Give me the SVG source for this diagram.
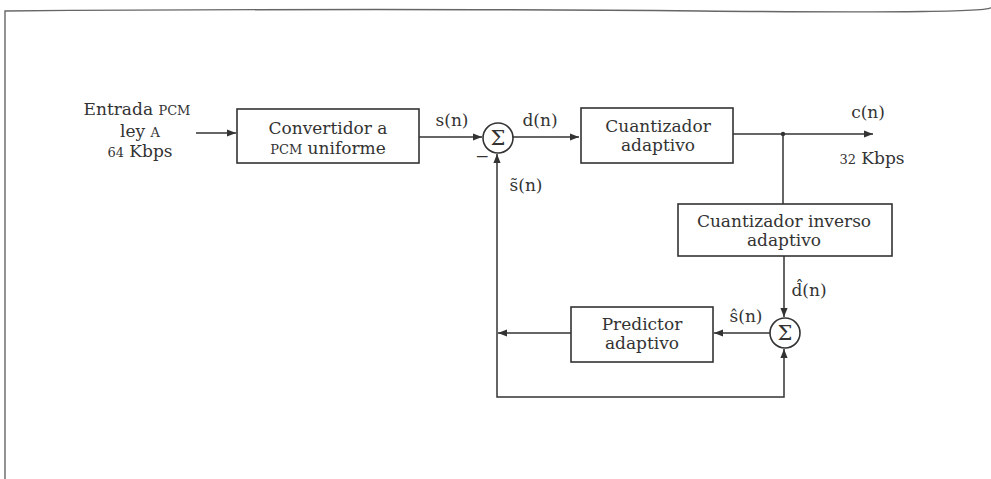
<svg xmlns="http://www.w3.org/2000/svg" width="991" height="479" viewBox="0 0 991 479">
<style>
text{font-family:"DejaVu Serif","Liberation Serif",serif;font-size:17px;fill:#333;text-anchor:middle}
.sc{font-size:13px}
.box{fill:#fff;stroke:#333;stroke-width:1.6}
.ln{fill:none;stroke:#333;stroke-width:1.5}
.sig{font-size:21px}
</style>
<defs>
<marker id="ah" viewBox="0 0 10 10" refX="10" refY="5" markerWidth="9" markerHeight="9" markerUnits="userSpaceOnUse" orient="auto">
<path d="M0,1 L10,5 L0,9 Z" fill="#333"/>
</marker>
</defs>
<rect width="991" height="479" fill="#fff"/>
<path d="M5,479 L5,11 Q400,8 700,11 T991,7" fill="none" stroke="#666" stroke-width="1.4"/>

<g id="connectors">
<line class="ln" x1="196" y1="133" x2="236" y2="133" marker-end="url(#ah)"/>
<line class="ln" x1="419" y1="137" x2="482" y2="137" marker-end="url(#ah)"/>
<line class="ln" x1="513" y1="137" x2="579" y2="137" marker-end="url(#ah)"/>
<line class="ln" x1="733" y1="134" x2="873" y2="134" marker-end="url(#ah)"/>
<circle cx="783" cy="134" r="2.2" fill="#333"/>
<line class="ln" x1="783" y1="134" x2="783" y2="204"/>
<line class="ln" x1="784" y1="256" x2="784" y2="317" marker-end="url(#ah)"/>
<line class="ln" x1="770" y1="333" x2="714" y2="333" marker-end="url(#ah)"/>
<line class="ln" x1="571" y1="333" x2="498" y2="333" marker-end="url(#ah)"/>
<path class="ln" d="M497,333 L497,397 L784,397 L784,349" marker-end="url(#ah)"/>
<line class="ln" x1="497" y1="333" x2="497" y2="154" marker-end="url(#ah)"/>
</g>

<g id="input-label">
<text x="137" y="115">Entrada <tspan class="sc">PCM</tspan></text>
<text x="140" y="137">ley <tspan class="sc">A</tspan></text>
<text x="140" y="157"><tspan class="sc">64</tspan> Kbps</text>
</g>

<g id="convertidor">
<rect class="box" x="237" y="109" width="182" height="54"/>
<text x="328" y="134">Convertidor a</text>
<text x="328" y="154"><tspan class="sc">PCM</tspan> uniforme</text>
</g>

<g id="sum1">
<circle class="box" cx="498" cy="138" r="15"/>
<text class="sig" x="498" y="145">Σ</text>
<text x="482" y="162">−</text>
</g>

<g id="cuantizador">
<rect class="box" x="581" y="108" width="152" height="55"/>
<text x="658" y="132">Cuantizador</text>
<text x="658" y="151">adaptivo</text>
</g>

<g id="cuantizador-inverso">
<rect class="box" x="678" y="204" width="214" height="52"/>
<text x="784" y="227">Cuantizador inverso</text>
<text x="784" y="246">adaptivo</text>
</g>

<g id="sum2">
<circle class="box" cx="785" cy="333" r="15"/>
<text class="sig" x="785" y="340">Σ</text>
</g>

<g id="predictor">
<rect class="box" x="571" y="307" width="142" height="55"/>
<text x="642" y="330">Predictor</text>
<text x="642" y="349">adaptivo</text>
</g>

<g id="signal-labels">
<text x="452" y="126">s(n)</text>
<text x="540" y="126">d(n)</text>
<text x="526" y="191">s̃(n)</text>
<text x="868" y="118">c(n)</text>
<text x="872" y="164"><tspan class="sc">32</tspan> Kbps</text>
<text x="809" y="296">d̂(n)</text>
<text x="746" y="322">ŝ(n)</text>
</g>
</svg>
